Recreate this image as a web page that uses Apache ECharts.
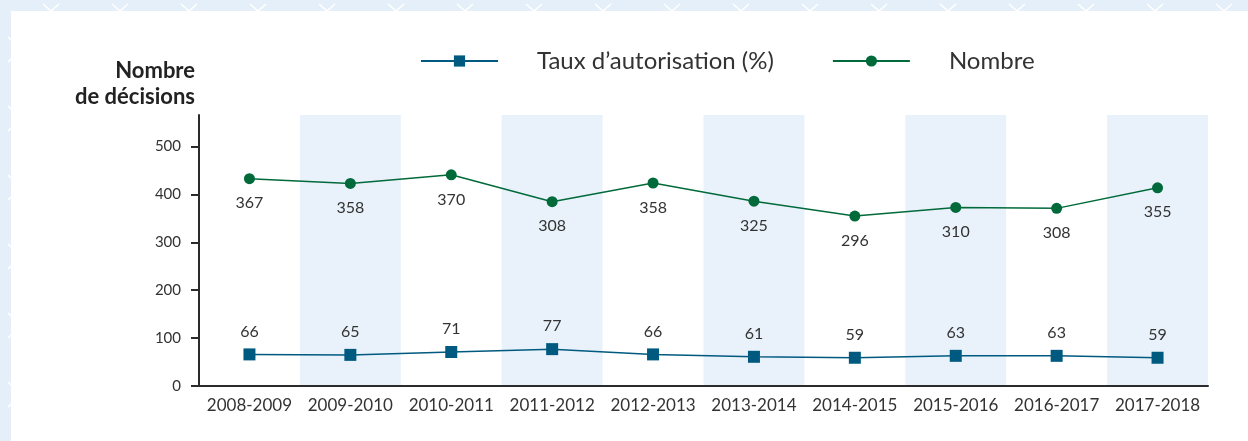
<!DOCTYPE html>
<html>
<head>
<meta charset="utf-8">
<script src="https://cdn.jsdelivr.net/npm/echarts@6/dist/echarts.min.js"></script>
<style>
  html, body { margin: 0; padding: 0; }
  body {
    width: 1248px; height: 441px; overflow: hidden; position: relative;
    background-color: #e5eff9;
    background-image:
      url("data:image/svg+xml;utf8,<svg xmlns='http://www.w3.org/2000/svg' width='69' height='12'><path d='M43 4 L51 11 L59 4' stroke='white' stroke-width='1.5' fill='none'/></svg>"),
      url("data:image/svg+xml;utf8,<svg xmlns='http://www.w3.org/2000/svg' width='12' height='69'><path d='M8 37 L11 40 M8 62 L11 59' stroke='white' stroke-width='1.5' fill='none'/></svg>");
    background-repeat: repeat-x, repeat-y;
    background-position: 0 0, 0 0;
  }
  #card { position: absolute; left: 11px; top: 11px; right: 0; bottom: 0; background: #fff; }
  #chart { position: absolute; left: 0; top: 0; width: 1248px; height: 441px; }
</style>
</head>
<body>
<div id="card"></div>
<div id="chart"></div>
<script>
// periods on the x axis
const periods = ['2008-2009', '2009-2010', '2010-2011', '2011-2012', '2012-2013',
  '2013-2014', '2014-2015', '2015-2016', '2016-2017', '2017-2018'];
// authorisation rate (%)
const tauxValues = [66, 65, 71, 77, 66, 61, 59, 63, 63, 59];
// number of decisions
const nombreValues = [367, 358, 370, 308, 358, 325, 296, 310, 308, 355];
// y tick labels
const yTicks = [0, 100, 200, 300, 400, 500];

const chart = echarts.init(document.getElementById('chart'));
const font = 'Lato, "Noto Sans", sans-serif';

chart.setOption({
  animation: false,
  textStyle: { fontFamily: font },
  legend: {
    left: 415,
    top: 44,
    itemWidth: 77,
    itemHeight: 14,
    itemGap: 58,
    textStyle: { fontSize: 24, color: '#333', padding: [0, 0, 0, 34], fontFamily: font },
    data: ['Taux d\u2019autorisation (%)', 'Nombre']
  },
  graphic: [{
    type: 'text',
    x: 195,
    y: 58,
    style: {
      text: 'Nombre\nde décisions',
      textAlign: 'right',
      fontSize: 22,
      fontWeight: 'bold',
      fontFamily: 'Lato',
      lineHeight: 26,
      fill: '#222'
    }
  }],
  grid: { left: 199, right: 40, top: 115, bottom: 55 },
  xAxis: {
    type: 'category',
    data: periods,
    axisLine: { lineStyle: { color: '#2b2b2b', width: 2 } },
    axisTick: { inside: true, alignWithLabel: true, interval: 0, length: 7, lineStyle: { color: '#2b2b2b', width: 2 } },
    axisLabel: { color: '#333', fontSize: 17, margin: 11, interval: 0 },
    splitArea: { show: true, interval: 0, areaStyle: { color: ['rgba(0,0,0,0)', '#e9f2fa'] } }
  },
  yAxis: {
    type: 'value',
    min: 0,
    max: 566,
    axisLine: { show: true, lineStyle: { color: '#2b2b2b', width: 2 } },
    axisTick: { show: true, length: 8, customValues: yTicks, lineStyle: { color: '#2b2b2b', width: 2 } },
    axisLabel: { color: '#333', fontSize: 15, margin: 18, customValues: yTicks },
    splitLine: { show: false }
  },
  series: [
    {
      name: 'Taux d\u2019autorisation (%)',
      type: 'line',
      stack: 'total',
      data: tauxValues,
      symbol: 'rect',
      symbolSize: 12,
      color: '#005a80',
      lineStyle: { width: 1.5, color: '#005a80' },
      label: { show: true, position: 'top', distance: 9, color: '#333', fontSize: 16 }
    },
    {
      name: 'Nombre',
      type: 'line',
      stack: 'total',
      data: nombreValues,
      symbol: 'circle',
      symbolSize: 11,
      color: '#006a3b',
      lineStyle: { width: 1.5, color: '#006a3b' },
      label: { show: true, position: 'bottom', distance: 11, color: '#333', fontSize: 16 }
    }
  ]
});
</script>
</body>
</html>
